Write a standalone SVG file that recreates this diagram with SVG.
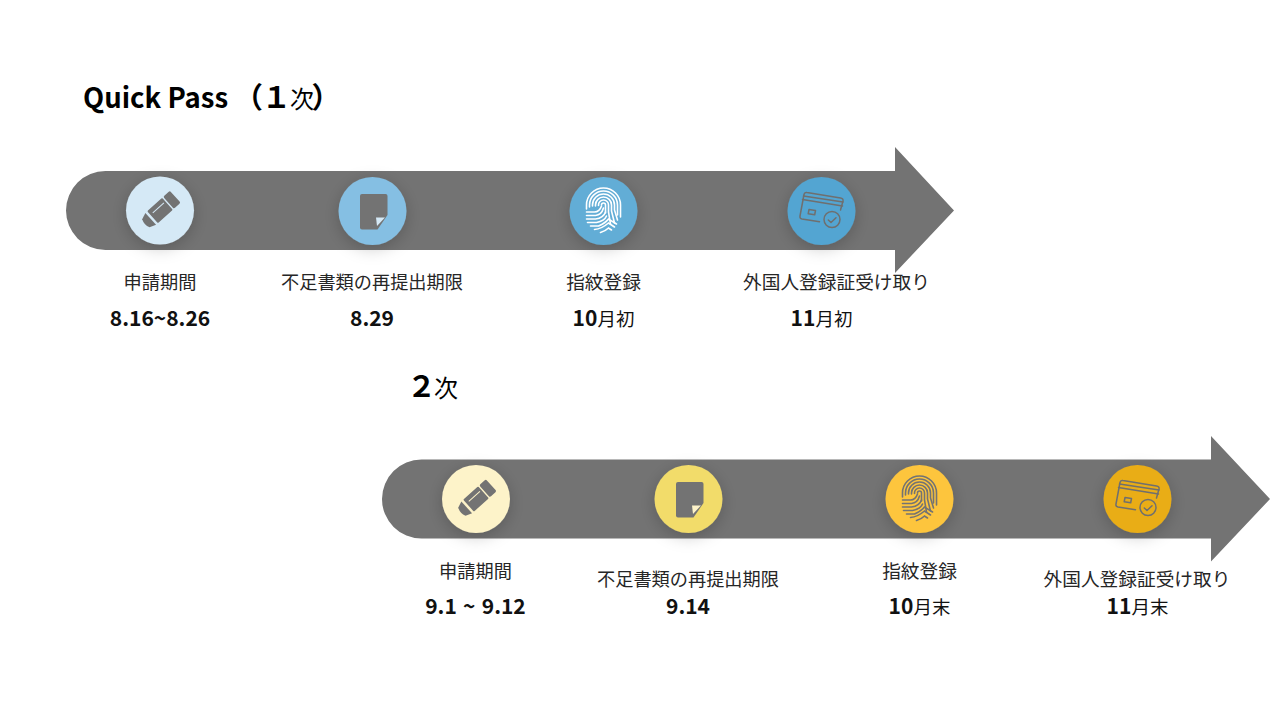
<svg xmlns="http://www.w3.org/2000/svg" xmlns:xlink="http://www.w3.org/1999/xlink" width="1280" height="720" viewBox="0 0 1280 720">
<style>
text{font-family:"Noto Sans CJK JP","Noto Sans",sans-serif;text-anchor:middle}
.l{font-size:18.2px;fill:#262626}
.w{font-size:18.7px}
.d{font-size:21px;font-weight:700;fill:#111}
.s{word-spacing:1.5px}
.r{font-weight:400;font-size:18.5px}
.t{font-size:27.5px;font-weight:700;fill:#000;text-anchor:start}
.b{font-size:29px}
.n{font-size:24px;font-weight:400}
.bar{fill:#737373}
.fp{fill:none;stroke-width:1.6;stroke-linecap:round}
.card{fill:none;stroke:#6f6f6f;stroke-width:1.5;stroke-linecap:round;stroke-linejoin:round}
</style>
<defs>
<filter id="sh" x="-60%" y="-60%" width="220%" height="220%"><feDropShadow dx="0" dy="4" stdDeviation="8" flood-color="#000" flood-opacity=".2"/></filter>
<g id="pencil" fill="#737373" transform="rotate(-42)">
<rect x="11.500" y="-8" width="9" height="16" rx="1.500"/>
<rect x="-10" y="-8" width="20" height="16" rx="1"/>
<path d="M-12.500-8V8L-19 5.500Q-21.500 0-19-5.500Z"/>
</g>
<path id="doc" fill="#737373" d="M-10.500-17H13Q15-17 15-15V4L5 18.500H-10.500Q-12.500 18.500-12.500 16.500V-15Q-12.500-17-10.500-17Z"/>
<g id="fingerprint" class="fp">
<path d="M-17 0V-4A17 17 0 0 1 17-4V8"/>
<path d="M-14-2V-4A14 14 0 0 1 14-4V6"/>
<path d="M-11-3V-4A11 11 0 0 1 11-4V1L14 11"/>
<path d="M-8-3V-4A8 8 0 0 1 8-4V2L11 14"/>
<path d="M-5-3.500V-4A5 5 0 0 1 5-4V3L7 15"/>
<path d="M-2-4A2 2 0 0 1 2-4V4"/>
<path d="M-17 3H-9Q-4 3-2-3"/>
<path d="M-17 6.500H-8Q-2 6 0-1"/>
<path d="M-17 10H-8Q0 9 2 3"/>
<path d="M-16 13.500H-7Q1 12 3 7"/>
<path d="M-13 17H-5Q2 14 5 10L13 15"/>
<path d="M-9 20.500Q-2 20 5 14L11 18"/>
<path d="M-3 23.500Q2 22 5 19L8 21"/>
</g>
<g id="card" class="card">
<path d="M-2 10.700L-19.500 8Q-22 7.500-21.500 5L-17.500-16.500Q-17-19-14.500-18.500L19-13Q22-12.500 21.500-10L19-1"/>
<path d="M-19-11.500L21-5M-18-15L21.500-9"/>
<path d="M-12.500-1.500L-6 -.5L-6.800 3.800L-13.300 2.800Z"/>
<circle cx="10.500" cy="8.500" r="8"/>
<path d="M6.800 9L9.500 11.500L14.500 6.800"/>
</g>
</defs>

<g id="connectors">
<path id="arrow-1" class="bar" d="M105.500 171H895V147L954 210.500L895 273V250H105.500A39.500 39.500 0 0 1 105.500 171Z"/>
<path id="arrow-2" class="bar" d="M421.500 459.500H1211V436L1270 499L1211 561.500V538.500H421.500A39.500 39.500 0 0 1 421.500 459.500Z"/>
</g>

<text id="title-1" class="t" x="83" y="108">Quick Pass</text>
<text id="title-1b" class="t b" y="108"><tspan x="234">（</tspan><tspan x="262">１</tspan></text>
<text id="title-1c" class="t n" x="290" y="108">次</text>
<text id="title-1d" class="t b" x="311.500" y="108">）</text>
<text id="title-2" class="t b" x="407" y="397">２</text>
<text id="title-2b" class="t n" x="434" y="397">次</text>

<g id="node-1-1">
<circle cx="160" cy="210.500" r="34" fill="#d5e9f6" filter="url(#sh)"/>
<use xlink:href="#pencil" href="#pencil" transform="translate(160 210.500)"/>
<rect x="-7" y="-3.500" width="15" height="1" fill="#d5e9f6" transform="translate(160 210.500) rotate(-42)"/>
<text class="l" x="160" y="289">申請期間</text>
<text class="d" x="160" y="326">8.16~8.26</text>
</g>
<g id="node-1-2">
<circle cx="372.500" cy="211" r="34" fill="#85bfe3" filter="url(#sh)"/>
<use xlink:href="#doc" href="#doc" transform="translate(372.500 211)"/>
<path d="M3.500 6.500H12.500L4.500 15Z" fill="#d5e9f6" transform="translate(372.500 211)"/>
<text class="l" x="372" y="289">不足書類の再提出期限</text>
<text class="d" x="372" y="326">8.29</text>
</g>
<g id="node-1-3">
<circle cx="603.500" cy="211" r="34" fill="#62add6" filter="url(#sh)"/>
<use xlink:href="#fingerprint" href="#fingerprint" stroke="#fff" transform="translate(603.500 209)"/>
<text class="l w" x="603.500" y="289">指紋登録</text>
<text class="d" x="603.500" y="326"><tspan>10</tspan><tspan class="r">月初</tspan></text>
</g>
<g id="node-1-4">
<circle cx="821.500" cy="211" r="34" fill="#52a5d2" filter="url(#sh)"/>
<use xlink:href="#card" href="#card" transform="translate(821.500 211)"/>
<text class="l w" x="836.500" y="289">外国人登録証受け取り</text>
<text class="d" x="821.500" y="326"><tspan>11</tspan><tspan class="r">月初</tspan></text>
</g>

<g id="node-2-1">
<circle cx="476" cy="499" r="34" fill="#fdf3c9" filter="url(#sh)"/>
<use xlink:href="#pencil" href="#pencil" transform="translate(476 499)"/>
<rect x="-7" y="-3.500" width="15" height="1" fill="#fdf3c9" transform="translate(476 499) rotate(-42)"/>
<text class="l" x="475.500" y="578">申請期間</text>
<text class="d s" x="475.500" y="614">9.1 ~ 9.12</text>
</g>
<g id="node-2-2">
<circle cx="688.500" cy="499" r="34" fill="#f2dc6b" filter="url(#sh)"/>
<use xlink:href="#doc" href="#doc" transform="translate(688.500 499)"/>
<path d="M3.500 6.500H12.500L4.500 15Z" fill="#fdf3c9" transform="translate(688.500 499)"/>
<text class="l" x="688" y="586">不足書類の再提出期限</text>
<text class="d" x="688" y="614">9.14</text>
</g>
<g id="node-2-3">
<circle cx="919.500" cy="499" r="34" fill="#fdc53e" filter="url(#sh)"/>
<use xlink:href="#fingerprint" href="#fingerprint" stroke="#737373" transform="translate(919.500 497)"/>
<text class="l w" x="919.500" y="578">指紋登録</text>
<text class="d" x="919.500" y="614"><tspan>10</tspan><tspan class="r">月末</tspan></text>
</g>
<g id="node-2-4">
<circle cx="1137.500" cy="499" r="34" fill="#e9ad17" filter="url(#sh)"/>
<use xlink:href="#card" href="#card" transform="translate(1137.500 499)"/>
<text class="l w" x="1137" y="586">外国人登録証受け取り</text>
<text class="d" x="1137.500" y="614"><tspan>11</tspan><tspan class="r">月末</tspan></text>
</g>
</svg>
